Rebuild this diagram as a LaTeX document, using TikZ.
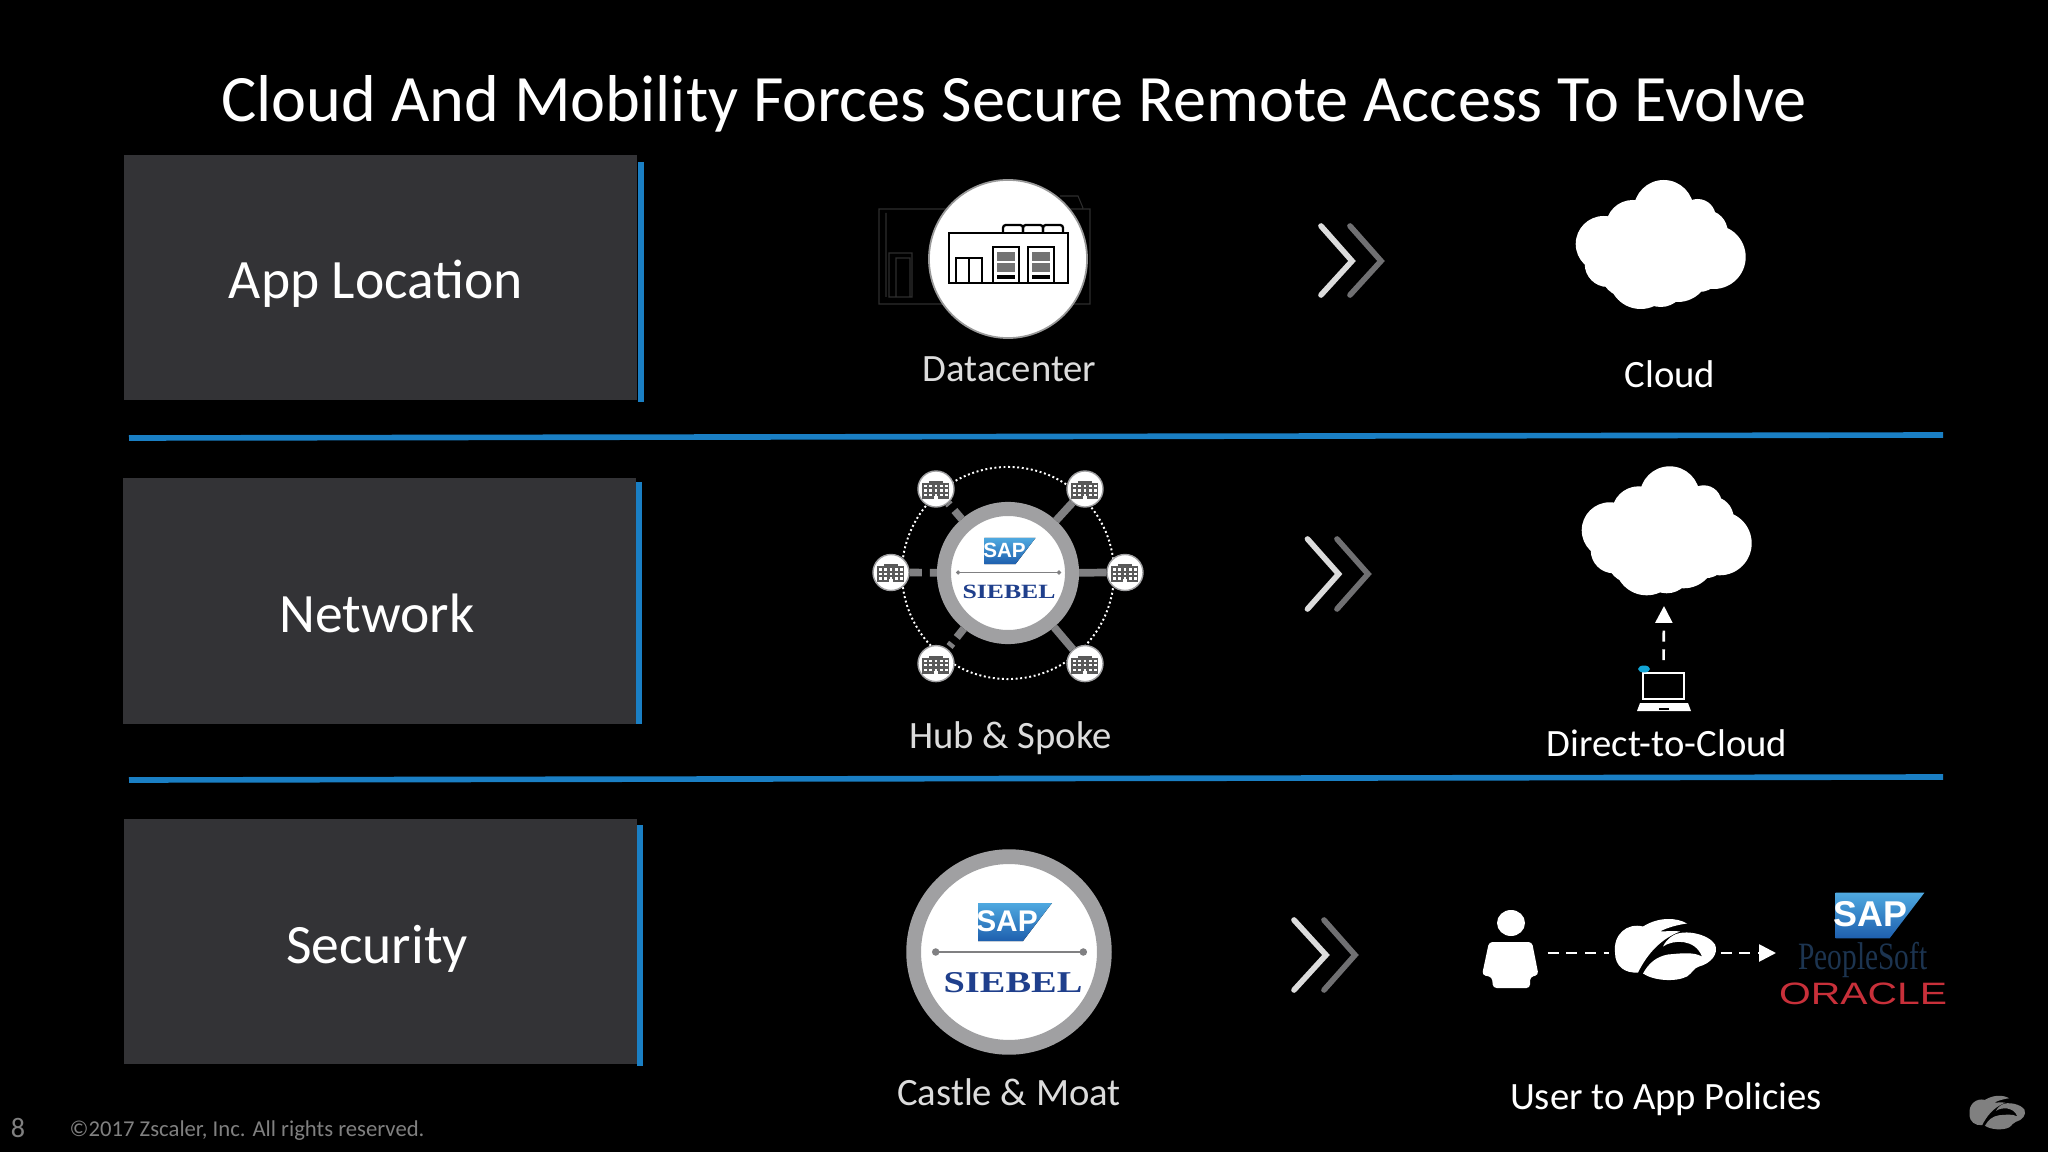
\documentclass[tikz,border=0pt]{standalone}
\usepackage{fontspec}
\setmainfont{Carlito}
\newfontfamily\logofont{Liberation Sans}
\newfontfamily\oldfont{Liberation Serif}
\usetikzlibrary{arrows.meta}
\definecolor{panel}{HTML}{333336}
\definecolor{stripe}{HTML}{1A7FC4}
\definecolor{ringgray}{HTML}{A0A0A2}
\definecolor{spokegray}{HTML}{808082}
\definecolor{chevlight}{HTML}{DCDCDC}
\definecolor{chevdark}{HTML}{707072}
\definecolor{siebelblue}{HTML}{1F3F8C}
\definecolor{saptop}{HTML}{4FA9E0}
\definecolor{sapbottom}{HTML}{1E5FAE}
\definecolor{softblue}{HTML}{1C3450}
\definecolor{oraclered}{HTML}{C8303A}

\begin{document}
\begin{tikzpicture}[x=0.01cm, y=-0.01cm,
    rowbox/.style={rectangle, fill=panel, minimum width=5.13cm, minimum height=2.45cm, inner sep=0},
    rowtext/.style={white, font=\fontsize{15.8}{19}\selectfont, inner sep=0},
    leftcap/.style={chevlight, font=\fontsize{11}{13}\selectfont, inner sep=0},
    rightcap/.style={white, font=\fontsize{11}{13}\selectfont, inner sep=0},
    sepline/.style={stripe, line width=1.6pt},
    sidebar/.style={stripe, line width=1.5pt},
    chevfront/.style={chevlight, line width=1.6pt, line cap=round},
    chevback/.style={chevdark, line width=1.6pt, line cap=round},
    moat/.style={circle, draw=ringgray, fill=white, inner sep=0},
    satnode/.style={circle, draw=ringgray, fill=white, line width=0.4pt, minimum size=0.36cm, inner sep=0},
    spoke/.style={spokegray, line width=2.2pt},
    dashlink/.style={white, line width=0.75pt, dash pattern=on 3.1pt off 2.2pt},
    tiplink/.style={dashlink, -{Triangle[length=4.8pt,width=4.8pt]}},
    siebel/.style={siebelblue, font=\oldfont\bfseries\fontsize{8.6}{10}\selectfont, xscale=1.27, inner sep=0},
    roofunit/.style={black, line width=0.65pt, rounded corners=0.8pt},
    cloudpic/.pic={
        \fill[white] (0,0) circle (43) (-57,-3) circle (28) (3,-37) circle (30) (37,-30) circle (18)
            (53,10) circle (32) (-20,30) circle (32) (17,23) circle (32) (-53,17) circle (23)
            (-35,25) circle (25) (0,35) circle (25) (38,20) circle (25) (-28,-20) circle (27) (45,-15) circle (22);
    },
    saplogo/.pic={
        \fill[top color=saptop, bottom color=sapbottom] (-37,-19) -- (37,-19) -- (8,19) -- (-37,19) -- cycle;
        \node[white, transform shape, inner sep=0, font=\logofont\bfseries\fontsize{8.5}{10}\selectfont] (saptext) at (-8,-1) {SAP};
    },
    zlogo/.pic={
        \fill[#1] (22,-25) .. controls (12,-31) and (-6,-32) .. (-22,-22) .. controls (-38,-26) and (-52,-14) .. (-50,4)
            .. controls (-50,18) and (-40,25) .. (-27,24) .. controls (-20,10) and (-8,-8) .. (15,-17)
            .. controls (7,-18) and (0,-17) .. (-5,-17) .. controls (2,-21) and (14,-24) .. (22,-25) -- cycle;
        \fill[#1] (-22,25) .. controls (-12,32) and (10,34) .. (22,28) .. controls (28,24) and (28,20) .. (34,18)
            .. controls (46,15) and (54,5) .. (50,-4) .. controls (44,-14) and (20,-20) .. (8,-13)
            .. controls (3,-10) and (0,-6) .. (-2,-2) .. controls (8,-9) and (30,-10) .. (37,8)
            .. controls (28,3) and (15,5) .. (3,6) .. controls (-8,8) and (-16,14) .. (-22,25) -- cycle;
    },
    officeicon/.pic={
        \fill[black!65] (-14,-6) rectangle (13,10);
        \fill[black!65] (-7,-8) rectangle (7,-6);
        \draw[white, line width=0.6pt, dash pattern=on 0.8pt off 0.7pt] (-12,-3) -- (12,-3);
        \draw[white, line width=0.6pt, dash pattern=on 0.8pt off 0.7pt] (-12,1.5) -- (12,1.5);
        \draw[white, line width=0.6pt, dash pattern=on 0.8pt off 0.7pt] (-12,6) -- (12,6);
        \fill[white] (-2,7) rectangle (2,10);
    },
    rackunit/.pic={
        \draw[black, line width=0.65pt] (0,0) rectangle (26,36);
        \fill[black!55] (4,5) rectangle (22,25);
        \draw[white, line width=0.3pt] (4,15) -- (22,15);
        \fill[black] (4,28) rectangle (22,32);
    }]
    % page
    \fill[black] (0,0) rectangle (2048,1152);
    \useasboundingbox (0,0) rectangle (2048,1152);
    \node[white, font=\fontsize{18.85}{23}\selectfont, inner sep=0] (title) at (1014,104) {Cloud And Mobility Forces Secure Remote Access To Evolve};
    % rows
    \node[rowbox] (locbox) at (380.5,277.5) {};
    \node[rowbox] (netbox) at (379.5,601) {};
    \node[rowbox] (secbox) at (380.5,941.5) {};
    \node[rowtext] (loctext) at (376,284) {App Location};
    \node[rowtext] (nettext) at (377,613) {Network};
    \node[rowtext] (sectext) at (377,949) {Security};
    \draw[sidebar] (641,162) -- (641,402);
    \draw[sidebar] (639,482) -- (639,724);
    \draw[sidebar] (640,825) -- (640,1066);
    \draw[sepline] (129,438) -- (1943,435);
    \draw[sepline] (129,780) -- (1943,777);
    % datacenter
    \draw[black!82, line width=0.3pt] (879,209) rectangle (1090,304) (886,213) -- (886,297) (889,253) rectangle (912,297)
        (896,258) rectangle (910,297) (1060,196) -- (1078,196) -- (1083,208);
    \node[moat, draw=black!40, line width=0.5pt, minimum size=1.58cm] (dcnode) at (1008,259) {};
    \draw[roofunit] (1003,233) -- (1003,225) -- (1023,225) -- (1023,233);
    \draw[roofunit] (1023,233) -- (1023,225) -- (1043,225) -- (1043,233);
    \draw[roofunit] (1043,233) -- (1043,225) -- (1063,225) -- (1063,233);
    \draw[black, line width=0.65pt] (949,233) rectangle (1068,283);
    \draw[black, line width=0.65pt] (956,283) -- (956,258) -- (982,258) -- (982,283) (969,258) -- (969,283);
    \pic at (993,247) {rackunit};
    \pic at (1028,247) {rackunit};
    \node[leftcap] (dclabel) at (1009.5,369) {Datacenter};
    % hub and spoke
    \node[circle, draw=white, line width=0.55pt, dash pattern=on 0.55pt off 0.75pt, minimum size=2.12cm, inner sep=0] (ringpath) at (1008,573) {};
    \node[moat, line width=4pt, minimum size=1.28cm] (hub) at (1008,573) {};
    \node[satnode] (satnw) at (936,489) {};
    \node[satnode] (satne) at (1085,489) {};
    \node[satnode] (satw) at (891,572.5) {};
    \node[satnode] (sate) at (1125,572.5) {};
    \node[satnode] (satsw) at (936,663.6) {};
    \node[satnode] (satse) at (1085,663.6) {};
    \draw[spoke, dash pattern=on 3.2pt off 2.1pt on 1.2pt off 30pt] (hub) -- (satnw);
    \draw[spoke] (hub) -- (satne);
    \draw[spoke, dash pattern=on 2pt off 2.3pt on 3.7pt off 30pt] (hub) -- (satw);
    \draw[spoke] (hub) -- (sate);
    \draw[spoke, dash pattern=on 3.2pt off 2.1pt on 1.2pt off 30pt] (hub) -- (satsw);
    \draw[spoke] (hub) -- (satse);
    \pic at (satnw) {officeicon};
    \pic at (satne) {officeicon};
    \pic at (satw) {officeicon};
    \pic at (sate) {officeicon};
    \pic at (satsw) {officeicon};
    \pic at (satse) {officeicon};
    \pic[scale=0.69] at (1010,551) {saplogo};
    \draw[spokegray, line width=0.35pt, {Circle[length=1.2pt]}-{Circle[length=1.2pt]}] (956,572.5) -- (1061,572.5);
    \node[siebel, scale=0.67] (hubsiebel) at (1009,592) {SIEBEL};
    \node[leftcap] (hublabel) at (1010.5,738) {Hub \& Spoke};
    % castle and moat
    \node[moat, line width=4.2pt, minimum size=1.906cm] (castle) at (1009,952) {};
    \pic at (1015,922) {saplogo};
    \draw[spokegray, line width=0.45pt, {Circle[length=2.1pt]}-{Circle[length=2.1pt]}] (932,952) -- (1087,952);
    \node[siebel] (castlesiebel) at (1013,983) {SIEBEL};
    \node[leftcap] (castlelabel) at (1009,1092) {Castle \& Moat};
    % chevrons
    \draw[chevback] (1350,226) -- (1381,261) -- (1350,295);
    \draw[chevfront] (1321,226) -- (1352,261) -- (1321,295);
    \draw[chevback] (1337,539) -- (1368,574) -- (1337,609);
    \draw[chevfront] (1307.5,539) -- (1338.6,574) -- (1307.5,609);
    \draw[chevback] (1324,920) -- (1355,955) -- (1324,990);
    \draw[chevfront] (1294,920) -- (1326,955) -- (1294,990);
    % clouds
    \pic at (1660.7,247) {cloudpic};
    \node[rightcap] (cloudlabel) at (1670,374) {Cloud};
    \pic at (1666.7,533.3) {cloudpic};
    \coordinate (cloudfoot) at (1664,606);
    % laptop
    \node[draw=white, line width=0.5pt, minimum width=0.41cm, minimum height=0.26cm, inner sep=0] (laptop) at (1663.5,686) {};
    \fill[white] (1640,703) -- (1688,703) -- (1691,711) -- (1637,711) -- cycle;
    \fill[black] (1659,708) rectangle (1669,710);
    \fill[stripe!70!cyan] (1644,669) ellipse (6 and 3.5);
    \draw[tiplink, shorten <=3.4pt] (laptop.north) -- (cloudfoot);
    \node[rightcap] (directlabel) at (1667,743) {Direct-to-Cloud};
    % user to app
    \fill[white] (1511,923) ellipse (14 and 13);
    \fill[white, rounded corners=1pt] (1489,942) -- (1532,942) -- (1538.5,975) -- (1530,977) -- (1530,988) -- (1493,988) -- (1492,977) -- (1482,975) -- cycle;
    \node[minimum width=0.7cm, minimum height=0.5cm, inner sep=0] (user) at (1512,953) {};
    \node[minimum width=1.1cm, minimum height=0.6cm, inner sep=0] (zsnode) at (1665,953) {};
    \pic at (1665,948.5) {zlogo=white};
    \coordinate (appsin) at (1776,953);
    \draw[dashlink] (user) -- (zsnode);
    \draw[tiplink] (zsnode) -- (appsin);
    \pic[scale=1.2] at (1880,915.5) {saplogo};
    \node[softblue, font=\oldfont\fontsize{11}{13}\selectfont, xscale=0.76, inner sep=0] (softtext) at (1863,960) {PeopleSoft};
    \node[oraclered, font=\logofont\fontsize{8.8}{10}\selectfont, xscale=1.32, inner sep=0] (oracletext) at (1863,994) {ORACLE};
    \node[rightcap] (policylabel) at (1666,1099) {User to App Policies};
    % footer
    \node[black!50!white, font=\fontsize{8}{10}\selectfont, inner sep=0] (pagenum) at (18,1128) {8};
    \node[black!50!white, anchor=west, font=\fontsize{6.45}{8}\selectfont, inner sep=0] (rights) at (69,1131) {©2017 Zscaler, Inc. All rights reserved.};
    \pic[scale=0.55] at (1997,1112) {zlogo=black!50!white};
\end{tikzpicture}
\end{document}
